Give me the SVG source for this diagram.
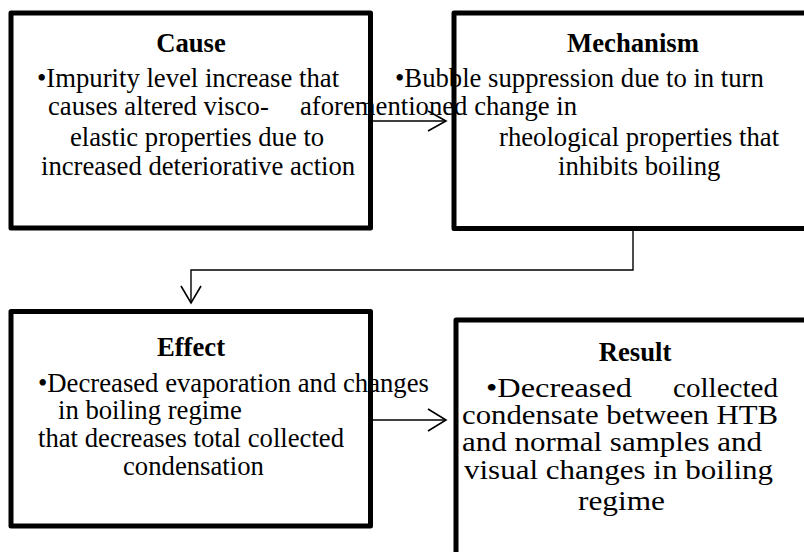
<svg xmlns="http://www.w3.org/2000/svg" width="804" height="552" viewBox="0 0 804 552">
  <style>
    .box { fill: #ffffff; stroke: #000000; stroke-width: 5; stroke-linejoin: round; }
    .title { font-family: "Liberation Serif", "Times New Roman", serif; font-weight: bold; font-size: 26.7px; fill: #000000; text-anchor: middle; }
    .body { font-family: "Liberation Serif", "Times New Roman", serif; font-size: 26.7px; fill: #000000; }
    .link { fill: none; stroke: #000000; stroke-width: 1.4; }
    .head { fill: none; stroke: #000000; stroke-width: 1.6; }
  </style>

  <rect width="804" height="552" fill="#ffffff"/>

  <!-- box outlines -->
  <g id="cause">
    <rect class="box" x="11" y="13" width="359.5" height="215"/>
  </g>
  <g id="mechanism">
    <rect class="box" x="454" y="13" width="400" height="215.5"/>
  </g>
  <g id="effect">
    <rect class="box" x="11" y="311.5" width="359.5" height="214.5"/>
  </g>
  <g id="result">
    <rect class="box" x="456" y="320" width="400" height="300"/>
  </g>

  <!-- connectors -->
  <g id="connectors">
    <line class="link" x1="372" y1="121" x2="446" y2="121"/>
    <polyline class="head" points="428,111 446,121 428,131"/>
    <polyline class="link" points="633,231 633,270 191,270 191,302"/>
    <polyline class="head" points="181,286 191,303 201,286"/>
    <line class="link" x1="372" y1="420" x2="446" y2="420"/>
    <polyline class="head" points="428,409 446,420 428,431"/>
  </g>

  <!-- box texts (drawn last so overflowing lines stay visible) -->
  <g id="cause-text">
    <text class="title" x="191" y="52">Cause</text>
    <text class="body" x="37" y="87">•Impurity level increase that</text>
    <text class="body" x="48" y="115">causes altered visco-</text>
    <text class="body" x="70" y="146">elastic properties due to</text>
    <text class="body" x="41" y="175">increased deteriorative action</text>
  </g>
  <g id="mechanism-text">
    <text class="title" x="633" y="52">Mechanism</text>
    <text class="body" x="395" y="87">•Bubble suppression due to in turn</text>
    <text class="body" x="300" y="115">aforementioned change in</text>
    <text class="body" x="499" y="146">rheological properties that</text>
    <text class="body" x="558" y="175">inhibits boiling</text>
  </g>
  <g id="effect-text">
    <text class="title" x="191" y="356">Effect</text>
    <text class="body" x="38" y="392">•Decreased evaporation and changes</text>
    <text class="body" x="58" y="419">in boiling regime</text>
    <text class="body" x="38" y="447">that decreases total collected</text>
    <text class="body" x="123" y="475">condensation</text>
  </g>
  <g id="result-text">
    <text class="title" x="635" y="361">Result</text>
    <text class="body" x="486" y="397" textLength="146" lengthAdjust="spacingAndGlyphs">•Decreased</text>
    <text class="body" x="673" y="397" textLength="105" lengthAdjust="spacingAndGlyphs">collected</text>
    <text class="body" x="462" y="424" textLength="316" lengthAdjust="spacingAndGlyphs">condensate between HTB</text>
    <text class="body" x="462" y="451" textLength="300" lengthAdjust="spacingAndGlyphs">and normal samples and</text>
    <text class="body" x="464" y="479" textLength="309" lengthAdjust="spacingAndGlyphs">visual changes in boiling</text>
    <text class="body" x="578" y="510" textLength="87" lengthAdjust="spacingAndGlyphs">regime</text>
  </g>
</svg>
